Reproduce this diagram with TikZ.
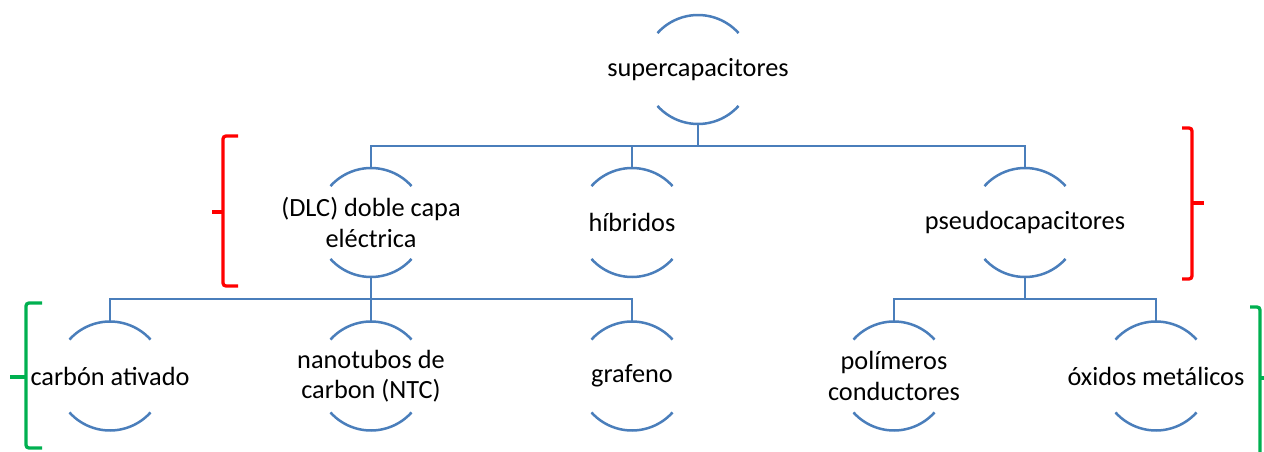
\documentclass[tikz,border=0pt]{standalone}
\usepackage{fontspec}
\setmainfont{Carlito}
\definecolor{lineblue}{RGB}{74,126,187}
\definecolor{brgreen}{RGB}{0,176,80}
\begin{document}
\begin{tikzpicture}[x=1pt,y=1pt,
  cnode/.style={align=center, inner sep=0pt, font=\fontsize{26.3}{30.5}\selectfont},
  arcline/.style={draw=lineblue, line width=2.5pt},
  conn/.style={draw=lineblue, line width=2.5pt},
  redbr/.style={draw=red, line width=3.3pt, rounded corners=3pt},
  greenbr/.style={draw=brgreen, line width=3.3pt, rounded corners=3pt}]
\useasboundingbox (0,0) rectangle (1264,-452);
\clip (0,0) rectangle (1264,-452);
% nodes
\node[cnode] (sup) at (698,-69.5) {supercapacitores};
\node[cnode] (dlc) at (371,-222.5) {(DLC) doble capa\\eléctrica};
\node[cnode] (hib) at (632,-222.5) {híbridos};
\node[cnode] (pse) at (1025,-222.5) {pseudocapacitores};
\node[cnode] (car) at (110,-376) {carbón ativado};
\node[cnode] (nan) at (371,-376) {nanotubos de\\carbon (NTC)};
\node[cnode] (gra) at (632,-376) {grafeno};
\node[cnode] (pol) at (894,-376) {polímeros\\conductores};
\node[cnode] (oxi) at (1156,-376) {óxidos metálicos};
% arcs and anchor points
\foreach \n in {sup,dlc,hib,pse,car,nan,gra,pol,oxi}{
  \draw[arcline] ([shift={(42:54.5pt)}]\n.center) arc[start angle=42,end angle=138,radius=54.5pt];
  \draw[arcline] ([shift={(222:54.5pt)}]\n.center) arc[start angle=222,end angle=318,radius=54.5pt];
  \coordinate (\n-t) at ([yshift=54.5pt]\n.center);
  \coordinate (\n-b) at ([yshift=-54.5pt]\n.center);
}
% connectors
\foreach \c in {dlc,hib,pse}{
  \draw[conn] (sup-b) -- ([yshift=-22pt]sup-b) -| (\c-t);
}
\foreach \c in {car,nan,gra}{
  \draw[conn] (dlc-b) -- ([yshift=-22pt]dlc-b) -| (\c-t);
}
\foreach \c in {pol,oxi}{
  \draw[conn] (pse-b) -- ([yshift=-22pt]pse-b) -| (\c-t);
}
% brackets
\draw[redbr] (238,-136) -| (223,-286) -- (238,-286);
\draw[draw=red, line width=3.3pt] (223,-212) -- (212,-212);
\draw[redbr] (1182,-128) -| (1192,-279) -- (1182,-279);
\draw[draw=red, line width=3.3pt] (1192,-203) -- (1204,-203);
\draw[greenbr] (42,-303) -| (26,-448) -- (42,-448);
\draw[draw=brgreen, line width=3.3pt] (26,-377) -- (10,-377);
\draw[greenbr] (1250,-307) -| (1260,-470);
\draw[draw=brgreen, line width=3.3pt] (1260,-378) -- (1272,-378);
\end{tikzpicture}
\end{document}
